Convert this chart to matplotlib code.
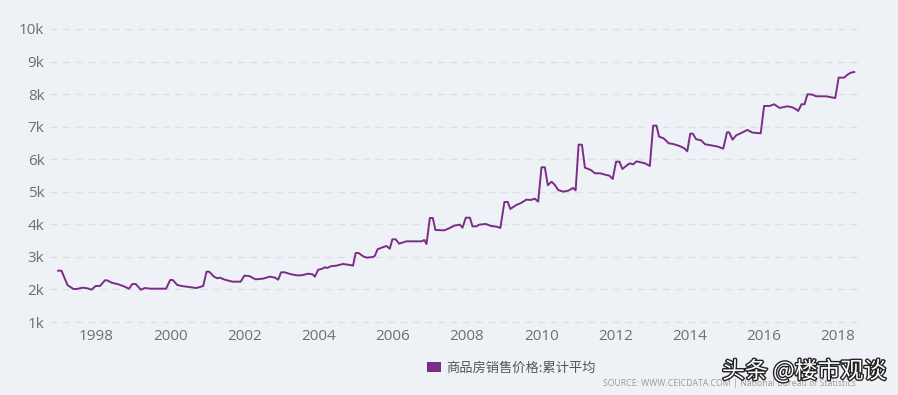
import matplotlib
matplotlib.use("Agg")
import matplotlib.pyplot as plt
from matplotlib.patches import Patch
import matplotlib.patheffects as pe

# --- dati (anno decimale, prezzo medio cumulato in yuan/m2) ---
years = [
    1996.98, 1997.07, 1997.23, 1997.39, 1997.48, 1997.64, 1997.77, 1997.88, 1997.99,
    1998.11, 1998.24, 1998.30, 1998.42, 1998.60, 1998.75, 1998.89, 1998.98,
    1999.07, 1999.21, 1999.32, 1999.46, 1999.73, 1999.89,
    2000.00, 2000.07, 2000.19, 2000.31, 2000.44, 2000.71, 2000.89, 2000.98,
    2001.05, 2001.18, 2001.27, 2001.34, 2001.47, 2001.68, 2001.90,
    2002.00, 2002.13, 2002.30, 2002.50, 2002.69, 2002.83, 2002.91, 2002.99,
    2003.09, 2003.23, 2003.41, 2003.54, 2003.72, 2003.84, 2003.90, 2003.99,
    2004.08, 2004.17, 2004.24, 2004.32, 2004.48, 2004.66, 2004.85, 2004.93,
    2005.00, 2005.08, 2005.20, 2005.30, 2005.47, 2005.52, 2005.59, 2005.70, 2005.83, 2005.92, 2005.99,
    2006.08, 2006.17, 2006.28, 2006.37, 2006.78, 2006.85, 2006.91,
    2007.00, 2007.08, 2007.15, 2007.39, 2007.52, 2007.66, 2007.81, 2007.88, 2007.97,
    2008.08, 2008.15, 2008.26, 2008.33, 2008.51, 2008.65, 2008.80, 2008.90,
    2009.01, 2009.10, 2009.17, 2009.33, 2009.46, 2009.60, 2009.72, 2009.83, 2009.92,
    2010.01, 2010.10, 2010.18, 2010.28, 2010.37, 2010.46, 2010.59, 2010.73, 2010.86, 2010.93,
    2011.01, 2011.10, 2011.18, 2011.34, 2011.45, 2011.59, 2011.72, 2011.84, 2011.93,
    2012.02, 2012.11, 2012.19, 2012.30, 2012.39, 2012.48, 2012.57, 2012.80, 2012.93,
    2013.02, 2013.11, 2013.18, 2013.30, 2013.44, 2013.55, 2013.73, 2013.86, 2013.94,
    2014.02, 2014.09, 2014.18, 2014.31, 2014.42, 2014.58, 2014.76, 2014.91,
    2015.01, 2015.07, 2015.16, 2015.26, 2015.38, 2015.56, 2015.70, 2015.92,
    2016.01, 2016.16, 2016.28, 2016.43, 2016.64, 2016.77, 2016.86, 2016.93,
    2017.02, 2017.10, 2017.18, 2017.31, 2017.41, 2017.68, 2017.81, 2017.93,
    2018.02, 2018.17, 2018.26, 2018.35, 2018.44,
]
prices = [
    2576, 2576, 2137, 2014, 2014, 2055, 2034, 1993, 2106,
    2108, 2280, 2280, 2208, 2158, 2097, 2023, 2167,
    2167, 1993, 2044, 2024, 2024, 2023,
    2290, 2290, 2137, 2106, 2085, 2044, 2106, 2546,
    2546, 2393, 2342, 2362, 2300, 2239, 2239,
    2423, 2413, 2311, 2331, 2393, 2362, 2300, 2526,
    2526, 2475, 2434, 2434, 2484, 2465, 2393, 2608,
    2628, 2680, 2660, 2710, 2731, 2782, 2751, 2731,
    3120, 3120, 3018, 2977, 2997, 3038, 3233, 3283, 3335, 3252, 3540,
    3540, 3406, 3447, 3478, 3478, 3519, 3396,
    4195, 4195, 3826, 3816, 3878, 3959, 3990, 3897, 4204,
    4204, 3939, 3939, 3990, 4011, 3949, 3929, 3888,
    4687, 4687, 4472, 4595, 4656, 4758, 4748, 4788, 4696,
    5753, 5753, 5200, 5310, 5209, 5055, 5003, 5034, 5117, 5044,
    6447, 6447, 5741, 5670, 5568, 5568, 5526, 5496, 5393,
    5925, 5925, 5700, 5802, 5874, 5843, 5935, 5874, 5793,
    7031, 7031, 6693, 6644, 6490, 6470, 6407, 6336, 6244,
    6785, 6785, 6612, 6582, 6459, 6428, 6387, 6326,
    6826, 6826, 6602, 6735, 6797, 6899, 6817, 6797,
    7636, 7636, 7688, 7575, 7626, 7595, 7544, 7482,
    7688, 7688, 7995, 7985, 7933, 7933, 7903, 7882,
    8506, 8506, 8598, 8659, 8680,
]
x_ticks = list(range(1998, 2019, 2))
y_ticks = list(range(1000, 10001, 1000))
y_labels = [f"{v // 1000}k" for v in y_ticks]
series_name = "商品房销售价格:累计平均"
source_text = "SOURCE: WWW.CEICDATA.COM | National Bureau of Statistics"
watermark = "头条 @楼市观谈"

BG = "#eef2f7"
LINE = "#7b2d86"

plt.rcParams["font.family"] = ["Open Sans", "DejaVu Sans"]

W, H = 898, 395
fig = plt.figure(figsize=(W / 100, H / 100), dpi=100, facecolor=BG)
ax = fig.add_axes([50 / W, 1 - 322 / H, (862 - 50) / W, (322 - 29) / H])
ax.set_facecolor(BG)

ax.plot(years, prices, color=LINE, linewidth=1.4, clip_on=False, zorder=3)

ax.set_xlim(1996.76, 2018.65)
ax.set_ylim(1000, 10000)
ax.set_xticks(x_ticks)
ax.set_xticklabels([str(y) for y in x_ticks])
ax.set_yticks(y_ticks)
ax.set_yticklabels(y_labels)
ax.tick_params(axis="both", length=0, labelsize=11, colors="#6e6e6e")
ax.tick_params(axis="x", pad=5)
ax.tick_params(axis="y", pad=4)
for s in ax.spines.values():
    s.set_visible(False)
ax.grid(axis="y", color="#dcdfe4", linestyle=(0, (5, 4)), linewidth=1)
ax.set_axisbelow(True)
for gl in ax.get_ygridlines():
    gl.set_clip_on(False)

# legenda in basso
fig.legend(handles=[Patch(facecolor=LINE, edgecolor="none")], labels=[series_name],
           loc="center", bbox_to_anchor=(511 / W, 1 - 368 / H), frameon=False,
           handlelength=1.1, handleheight=0.75, handletextpad=0.35,
           prop={"family": ["Noto Sans CJK SC", "DejaVu Sans"], "size": 9.5, "weight": "medium"},
           labelcolor="#555555")

fig.text(603 / W, 1 - 383 / H, source_text, fontsize=6.3, color="#9a9a9a",
         ha="left", va="center")

fig.text(886 / W, 1 - 371 / H, watermark, fontsize=16.5, color="white",
         ha="right", va="center", family=["Noto Sans CJK SC", "DejaVu Sans"],
         path_effects=[pe.withStroke(linewidth=2.0, foreground="#222222")], zorder=5)

fig.savefig("out.png", dpi=100, facecolor=BG)
